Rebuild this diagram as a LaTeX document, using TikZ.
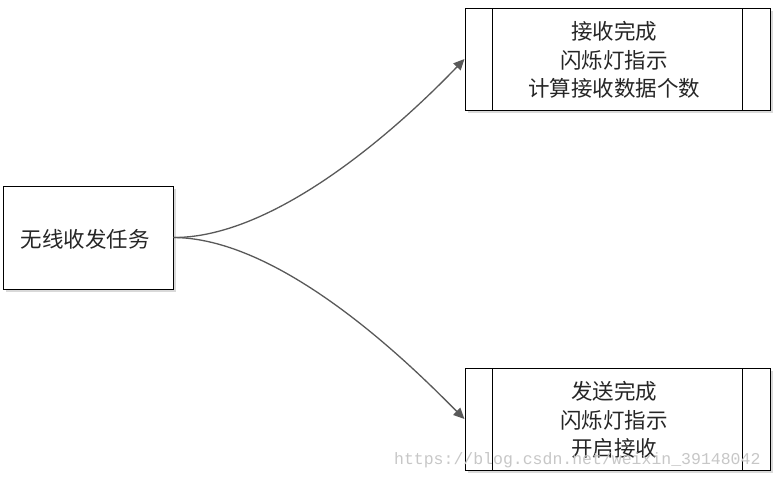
\documentclass[tikz,border=0pt]{standalone}
\usepackage{fontspec}
\newfontfamily\cjk{Noto Sans CJK SC}
\setmonofont{Liberation Mono}
\usetikzlibrary{arrows.meta}
\begin{document}
\begin{tikzpicture}[x=1pt,y=-1pt,
  box/.style={draw=black,line width=1pt,fill=white,inner sep=0pt},
  lbl/.style={font=\cjk\fontsize{21.5}{28.5}\selectfont,align=center,text=black!85},
  conn/.style={draw=black!65,line width=1.3pt,-{Triangle[length=11pt,width=10pt]}}]
\useasboundingbox (0,0) rectangle (774,480);
% shadows
\fill[black!15] (6,189) rectangle (176,292);
\fill[black!15] (468,11) rectangle (773,113);
\fill[black!15] (468,371) rectangle (773,473);
% left box
\node[box,minimum width=170pt,minimum height=103pt] (task) at (88,237.5) {};
\node[lbl] (tasklbl) at (85,239) {无线收发任务};
% top box
\node[box,minimum width=305pt,minimum height=102pt] (rx) at (617.5,59) {};
\draw[line width=1pt] (492,8) -- (492,110) (742,8) -- (742,110);
\node[lbl] (rxlbl) at (614,60) {接收完成\\闪烁灯指示\\计算接收数据个数};
% bottom box
\node[box,minimum width=305pt,minimum height=102pt] (tx) at (617.5,419) {};
\draw[line width=1pt] (492,368) -- (492,470) (742,368) -- (742,470);
\node[lbl] (txlbl) at (614,420) {发送完成\\闪烁灯指示\\开启接收};
% connectors
\draw[conn] (task.east) .. controls (290,238) and (430,95) .. (rx.west);
\draw[conn] (task.east) .. controls (290,238) and (430,385) .. (tx.west);
% watermark
\node[font=\ttfamily\fontsize{16.5}{16.5}\selectfont,text=black!22,anchor=east] (wm) at (764,460) {https://blog.csdn.net/weixin\_39148042};
\end{tikzpicture}
\end{document}
